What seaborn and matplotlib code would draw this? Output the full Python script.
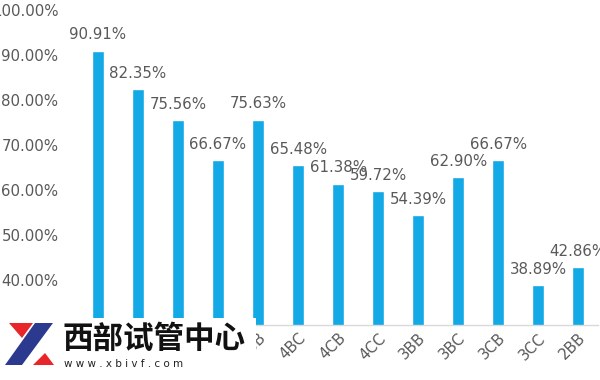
import matplotlib
matplotlib.use("Agg")
import matplotlib.pyplot as plt
from matplotlib.patches import Rectangle, Polygon
from matplotlib.ticker import FuncFormatter
import seaborn as sns
import pandas as pd

categories = ["5BB", "5BC", "5CB", "5CC", "4BB", "4BC", "4CB", "4CC",
              "3BB", "3BC", "3CB", "3CC", "2BB"]
rates = [90.91, 82.35, 75.56, 66.67, 75.63, 65.48, 61.38, 59.72,
         54.39, 62.90, 66.67, 38.89, 42.86]
yticks = [30, 40, 50, 60, 70, 80, 90, 100]

df = pd.DataFrame({"cat": categories, "rate": rates})

sns.set_theme(style="white")
plt.rcParams["font.family"] = ["DejaVu Sans", "Noto Sans CJK SC"]

fig = plt.figure(figsize=(6, 3.8), dpi=100)
ax = fig.add_axes([0.13, 0.145, 0.867, 0.829])

sns.barplot(data=df, x="cat", y="rate", color="#12A9E6", saturation=1,
            width=0.3, ax=ax)

ax.set_ylim(30, 100)
ax.set_xlim(-0.5, len(categories) - 0.5)
ax.set_yticks(yticks)
ax.yaxis.set_major_formatter(FuncFormatter(lambda v, p: f"{v:.2f}%"))
ax.set_xlabel("")
ax.set_ylabel("")
for s in ["top", "right", "left"]:
    ax.spines[s].set_visible(False)
ax.spines["bottom"].set_color("#d9d9d9")
ax.spines["bottom"].set_linewidth(1)
ax.tick_params(axis="y", length=0, pad=14, labelsize=10.8, labelcolor="#595959")
ax.tick_params(axis="x", length=0, pad=4, labelsize=10.8, labelcolor="#595959")
plt.setp(ax.get_xticklabels(), rotation=45, ha="right", rotation_mode="anchor")

for i, v in enumerate(rates):
    ax.annotate(f"{v:.2f}%", (i, v), xytext=(0, 6), textcoords="offset points",
                ha="center", va="bottom", fontsize=10.8, color="#595959")

# watermark overlay
W, H = 600, 380
def fx(x):
    return x / W
def fy(y):
    return 1 - y / H

fig.patches.append(Rectangle((fx(0), fy(380)), fx(256), 62 / H,
                             transform=fig.transFigure, facecolor="white",
                             edgecolor="none", zorder=10))
# logo
fig.patches.append(Polygon([(fx(9), fy(323)), (fx(33), fy(323)), (fx(22), fy(338))],
                           closed=True, transform=fig.transFigure,
                           facecolor="#e8262a", edgecolor="none", zorder=11))
fig.patches.append(Polygon([(fx(33), fy(365)), (fx(54), fy(365)), (fx(45), fy(353))],
                           closed=True, transform=fig.transFigure,
                           facecolor="#e8262a", edgecolor="none", zorder=11))
fig.patches.append(Polygon([(fx(35), fy(323)), (fx(53), fy(323)), (fx(22), fy(365)), (fx(5), fy(365))],
                           closed=True, transform=fig.transFigure,
                           facecolor="#2b3a8f", edgecolor="none", zorder=11))
fig.text(fx(62), fy(339), "西部试管中心", fontsize=22, fontweight="bold",
         family=["Noto Sans CJK SC"], color="#111111", va="center", ha="left", zorder=12)
fig.text(fx(64), fy(364), "w w w . x b i v f . c o m", fontsize=7.5,
         color="#222222", va="center", ha="left", zorder=12)

fig.savefig("out.png", dpi=100)
